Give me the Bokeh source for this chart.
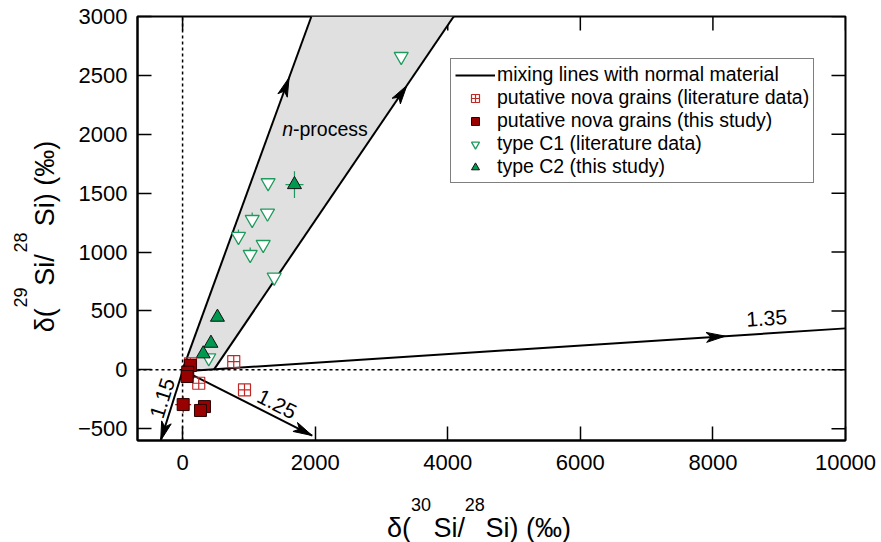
import math
from bokeh.plotting import figure
from bokeh.models import Range1d, FixedTicker, LinearAxis, Label, Legend, LegendItem
from bokeh.embed import file_html
from bokeh.resources import INLINE

# ---------------- data ----------------
x_ticks = [0, 2000, 4000, 6000, 8000, 10000]
y_ticks = [-500, 0, 500, 1000, 1500, 2000, 2500, 3000]

nova_lit_x = [772, 244, 934, 119]
nova_lit_y = [70, -114, -170, 51]

nova_x = [118, 78, 69, 9, 330, 270]
nova_y = [37, -20, -57, -295, -312, -345]
nova_xerr = [0, 0, 0, 120, 0, 0]
nova_yerr = [0, 0, 0, 70, 0, 0]

c1_x = [3298, 1290, 1050, 1281, 843, 1216, 1020, 1382, 395]
c1_y = [2660, 1588, 1276, 1330, 1132, 1064, 979, 786, 102]
c1_yerr = [0, 0, 60, 0, 60, 0, 60, 0, 0]

c2_x = [1688, 526, 428, 311]
c2_y = [1573, 447, 226, 136]
c2_xerr = [136, 0, 0, 0]
c2_yerr = [113, 0, 0, 0]

# mixing lines with normal material (start, end), arrow-head position (fraction)
mix_x0 = [200, 100, 40, 0, 470]
mix_y0 = [-5, -30, 60, 0, 0]
mix_x1 = [10000, 1955, -330, 1943, 4090]
mix_y1 = [352, -558, -600, 3000, 3000]
mix_head = [0.815, 1.0, 1.0, 0.827, 0.805]
mix_labels = ["1.35", "1.25", "1.15"]
mix_label_t = [0.88, 0.669, 0.4985]

# ---------------- layout ----------------
XMIN, XMAX, YMIN, YMAX = -680, 10000, -600, 3000
W, H = 881, 542
FL, FT, FR, FB = 137, 16, 845, 440
FW, FH = FR - FL, FB - FT
SX = FW / (XMAX - XMIN)
SY = FH / (YMAX - YMIN)
TICK = 14
NB = "\u00a0"
THIN = "\u2009"


def to_px(x, y):
    return ((x - XMIN) * SX, (y - YMIN) * SY)


def to_data(px, py):
    return (XMIN + px / SX, YMIN + py / SY)


def canvas_to_data(cx, cy):
    return to_data(cx - FL, FB - cy)


FONT = "Liberation Sans"

p = figure(width=W, height=H, output_backend="svg", toolbar_location=None,
           x_range=Range1d(XMIN, XMAX), y_range=Range1d(YMIN, YMAX),
           min_border_left=FL, min_border_right=W - FR,
           min_border_top=FT, min_border_bottom=H - FB,
           x_axis_type=None, y_axis_type=None)
p.background_fill_color = "white"
p.border_fill_color = "white"
p.outline_line_color = "black"
p.outline_line_width = 2
p.xgrid.visible = False
p.ygrid.visible = False


def make_axis(ticks, standoff):
    ax = LinearAxis(ticker=FixedTicker(ticks=ticks))
    ax.major_tick_in = TICK
    ax.major_tick_out = 0
    ax.minor_tick_in = 0
    ax.minor_tick_out = 0
    ax.axis_line_width = 2
    ax.major_tick_line_width = 1.5
    ax.axis_line_color = "black"
    ax.major_tick_line_color = "black"
    ax.major_label_text_font = FONT
    ax.major_label_text_font_size = "22px"
    ax.major_label_text_color = "black"
    ax.major_label_standoff = standoff
    return ax


p.add_layout(make_axis(x_ticks, 14), "below")
p.add_layout(make_axis(y_ticks, 10), "left")

# mirror ticks on the right and top frame edges
tdx = TICK / SX
tdy = TICK / SY
p.segment(x0=[XMAX] * len(y_ticks), y0=y_ticks, x1=[XMAX - tdx] * len(y_ticks), y1=y_ticks,
          line_color="black", line_width=1.5)
p.segment(x0=x_ticks, y0=[YMAX] * len(x_ticks), x1=x_ticks, y1=[YMAX - tdy] * len(x_ticks),
          line_color="black", line_width=1.5)

# n-process band
p.patch([mix_x0[3], mix_x1[3], mix_x1[4], mix_x0[4]],
        [mix_y0[3], mix_y1[3], mix_y1[4], mix_y0[4]],
        fill_color="#e0e0e0", line_color=None)

# zero lines
p.segment(x0=[0, XMIN], y0=[YMIN, 0], x1=[0, XMAX], y1=[YMAX, 0],
          line_color="black", line_width=1.5, line_dash="3 3")

# mixing lines
mix_r = p.segment(x0=mix_x0, y0=mix_y0, x1=mix_x1, y1=mix_y1,
                  line_color="black", line_width=2)

# arrow heads
HL, HW = 19, 5
hx, hy = [], []
for x0, y0, x1, y1, f in zip(mix_x0, mix_y0, mix_x1, mix_y1, mix_head):
    tx, ty = x0 + f * (x1 - x0), y0 + f * (y1 - y0)
    p0 = to_px(x0, y0)
    p1 = to_px(x1, y1)
    dx, dy = p1[0] - p0[0], p1[1] - p0[1]
    n = math.hypot(dx, dy)
    ux, uy = dx / n, dy / n
    nx, ny = -uy, ux
    tp = to_px(tx, ty)
    pts = [tp,
           (tp[0] - HL * ux + HW * nx, tp[1] - HL * uy + HW * ny),
           (tp[0] - 0.75 * HL * ux, tp[1] - 0.75 * HL * uy),
           (tp[0] - HL * ux - HW * nx, tp[1] - HL * uy - HW * ny)]
    dpts = [to_data(a, b) for a, b in pts]
    hx.append([q[0] for q in dpts])
    hy.append([q[1] for q in dpts])
p.patches(hx, hy, fill_color="black", line_color="black", line_width=1)

# mixing line labels
LOFF = [15, 12, 11]
for i, txt in enumerate(mix_labels):
    x0, y0, x1, y1 = mix_x0[i], mix_y0[i], mix_x1[i], mix_y1[i]
    t = mix_label_t[i]
    p0 = to_px(x0, y0)
    p1 = to_px(x1, y1)
    dx, dy = p1[0] - p0[0], p1[1] - p0[1]
    if dx < 0:
        dx, dy = -dx, -dy
    n = math.hypot(dx, dy)
    vx, vy = dx / n, dy / n
    ang = math.atan2(vy, vx)
    lp = to_px(x0 + t * (x1 - x0), y0 + t * (y1 - y0))
    cx, cy = lp[0] - vy * LOFF[i], lp[1] + vx * LOFF[i]
    dxl, dyl = to_data(cx, cy)
    p.add_layout(Label(x=dxl, y=dyl, text=txt, angle=ang, text_align="center",
                       text_baseline="middle", text_font=FONT,
                       text_font_size="21px", text_color="black"))

# error bars
ebx0, eby0, ebx1, eby1 = [], [], [], []
for x, y, ex, ey in zip(c2_x, c2_y, c2_xerr, c2_yerr):
    if ex:
        ebx0.append(x - ex); eby0.append(y); ebx1.append(x + ex); eby1.append(y)
    if ey:
        ebx0.append(x); eby0.append(y - ey); ebx1.append(x); eby1.append(y + ey)
for x, y, ey in zip(c1_x, c1_y, c1_yerr):
    if ey:
        ebx0.append(x); eby0.append(y - ey); ebx1.append(x); eby1.append(y + ey)
p.segment(ebx0, eby0, ebx1, eby1, line_color="#1f9a5c", line_width=1.2)
nbx0, nby0, nbx1, nby1 = [], [], [], []
for x, y, ex, ey in zip(nova_x, nova_y, nova_xerr, nova_yerr):
    if ex:
        nbx0.append(x - ex); nby0.append(y); nbx1.append(x + ex); nby1.append(y)
    if ey:
        nbx0.append(x); nby0.append(y - ey); nbx1.append(x); nby1.append(y + ey)
p.segment(nbx0, nby0, nbx1, nby1, line_color="#a01010", line_width=1.2)

# points
c1_r = p.scatter(c1_x, c1_y, marker="inverted_triangle", size=14,
                 fill_color="white", line_color="#1f9a5c", line_width=1.3)
c2_r = p.scatter(c2_x, c2_y, marker="triangle", size=14,
                 fill_color="#009950", line_color="#111111", line_width=1)
nl_r = p.scatter(nova_lit_x, nova_lit_y, marker="square_cross", size=12,
                 fill_color=None, line_color="#c02828", line_width=1.2)
nv_r = p.scatter(nova_x, nova_y, marker="square", size=12,
                 fill_color="#990000", line_color="#2a0000", line_width=1)

# n-process label
nx_, ny_ = canvas_to_data(281.7, 128.3)
p.add_layout(Label(x=nx_, y=ny_, text="n", text_font=FONT, text_font_size="19.5px",
                   text_font_style="italic", text_baseline="alphabetic",
                   text_align="left", text_color="black"))
nx2, ny2 = canvas_to_data(292.5, 128.3)
p.add_layout(Label(x=nx2, y=ny2, text="-process", text_font=FONT,
                   text_font_size="19.5px", text_baseline="alphabetic",
                   text_align="left", text_color="black"))

# axis titles: main text line + superscript line (mass numbers), in side panels
MAIN, SUP = "27px", "18px"
x_parts = [("δ(" + NB * 3 + "Si/" + NB * 2 + THIN + "Si) (‰)", 386.5, 527, MAIN),
           ("30" + NB * 6 + THIN + "28", 410.5, 504, SUP)]
for txt, cx, cy, fs in x_parts:
    dx_, dy_ = canvas_to_data(cx, cy)
    p.add_layout(Label(x=dx_, y=dy_, text=txt, text_font=FONT, text_font_size=fs,
                       text_align="left", text_baseline="alphabetic",
                       text_color="black"), "below")
y_parts = [("δ(" + NB * 3 + "Si/" + NB * 3 + THIN + "Si) (‰)", 44, 331.7, MAIN),
           ("29" + NB * 7 + "28", 20, 307, SUP)]
for txt, cx, cy, fs in y_parts:
    dx_, dy_ = canvas_to_data(cx, cy)
    p.add_layout(Label(x=dx_, y=dy_, text=txt, text_font=FONT, text_font_size=fs,
                       text_align="left", text_baseline="alphabetic",
                       angle=math.pi / 2, text_color="black"), "left")

legend = Legend(items=[
    LegendItem(label="mixing lines with normal material", renderers=[mix_r]),
    LegendItem(label="putative nova grains (literature data)", renderers=[nl_r]),
    LegendItem(label="putative nova grains (this study)", renderers=[nv_r]),
    LegendItem(label="type C1 (literature data)", renderers=[c1_r]),
    LegendItem(label="type C2 (this study)", renderers=[c2_r]),
])
legend.location = (450 - FL, FB - 183)
legend.label_text_font = FONT
legend.label_text_font_size = "19.5px"
legend.label_text_color = "black"
legend.glyph_width = 40
legend.glyph_height = 20
legend.label_height = 20
legend.label_standoff = 2
legend.spacing = 0
legend.padding = 4
legend.margin = 0
legend.border_line_color = "black"
legend.border_line_width = 1.5
legend.background_fill_color = "white"
legend.background_fill_alpha = 1
p.add_layout(legend)

open("out.html", "w").write(file_html(p, INLINE))
